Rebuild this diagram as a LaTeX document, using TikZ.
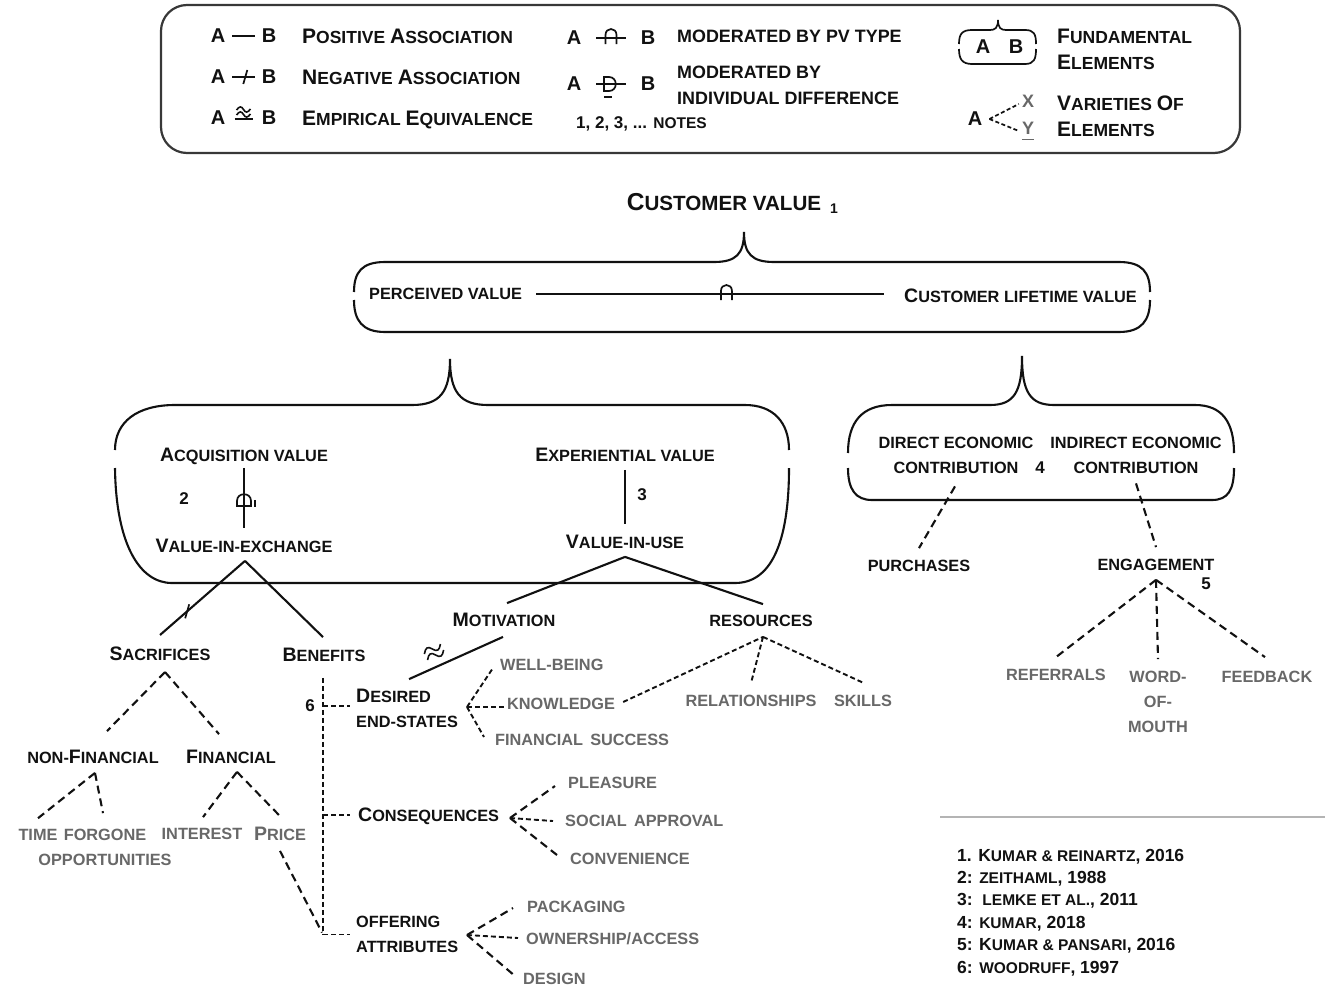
\documentclass[tikz,border=0pt]{standalone}
\usepackage{fontspec}
\setmainfont{Liberation Sans}
\usetikzlibrary{calc}

\definecolor{ink}{HTML}{111111}
\definecolor{greytext}{HTML}{686868}
\definecolor{framegrey}{HTML}{383838}
\definecolor{rulegrey}{HTML}{B4B4B4}

% large initial capitals inside small-capital labels
\newcommand\Bg[1]{{\fontsize{19.5}{25}\selectfont #1}}
\newcommand\BgL[1]{{\fontsize{21}{26}\selectfont #1}}
\newcommand\Sm[1]{{\fontsize{15.5}{22.4}\selectfont #1}}
% two stacked tildes, drawn around the current origin
\newcommand\tildepair{%
  \draw[symline, line width=1.6pt] (-7,-2) .. controls (-4,-6) and (-2,-6) .. (0,-2.5) .. controls (2,1) and (4,1) .. (7,-3);
  \draw[symline, line width=1.6pt] (-7,3) .. controls (-4,-1) and (-2,-1) .. (0,2.5) .. controls (2,6) and (4,6) .. (7,2);}

\tikzset{
  lbl/.style={inner sep=0pt, text depth=0pt, text=ink, font=\fontsize{16.3}{25}\selectfont\bfseries},
  gry/.style={lbl, text=greytext},
  lgd/.style={inner sep=0pt, text depth=0pt, text=ink, font=\fontsize{17.5}{26}\selectfont\bfseries},
  lgdm/.style={lgd, font=\fontsize{17.9}{26}\selectfont\bfseries},
  ab/.style={inner sep=0pt, text depth=0pt, text=ink, font=\fontsize{20}{24}\selectfont\bfseries},
  num/.style={inner sep=0pt, text depth=0pt, text=ink, font=\fontsize{17}{20}\selectfont\bfseries},
  fn/.style={inner sep=0pt, text depth=0pt, text=ink, font=\fontsize{17.5}{22.4}\selectfont\bfseries},
  conn/.style={draw=ink, line width=2.1pt},
  dconn/.style={conn, dash pattern=on 8pt off 5pt},
  fconn/.style={conn, line width=1.9pt, dash pattern=on 5pt off 3pt},
  bracebox/.style={draw=ink, line width=2.1pt},
  symline/.style={draw=ink, line width=1.7pt},
  % moderated by PV type
  pics/archsym/.style={code={\draw[symline] (-5.5,6) -- (-5.5,-3) .. controls (-5.5,-11) and (5.5,-11) .. (5.5,-3) -- (5.5,6);}},
  % moderated by individual difference (horizontal and vertical forms)
  pics/dsym/.style={code={
    \draw[symline] (-7,-7) -- (-7,7) -- (-2,7) .. controls (7,7) and (7,-7) .. (-2,-7) -- cycle;
    \draw[symline] (-7,13) -- (1,13);}},
  pics/vdsym/.style={code={
    \draw[symline] (-7,7) -- (7,7) -- (7,2) .. controls (7,-7) and (-7,-7) .. (-7,2) -- cycle;
    \draw[symline] (11,1) -- (11,8);}},
  % negative association
  pics/negtick/.style={code={\draw[symline] (2,-7) -- (-2,7);}},
  % empirical equivalence
  pics/approxsym/.style={code={\tildepair}},
}

\begin{document}
\begin{tikzpicture}[x=1pt,y=-1pt]
\useasboundingbox (0,0) rectangle (1325,988);
\fill[white] (0,0) rectangle (1325,988);

%% ---------------- key ----------------
\draw[framegrey, line width=2.2pt, rounded corners=26pt] (161,5) rectangle (1240,153);

% positive association
\node[ab] (pA) at (218,36) {A};
\node[ab] (pB) at (269,36) {B};
\draw[conn, shorten <=7pt, shorten >=7pt] (pA) -- (pB);
\node[lgd, anchor=west] (posT) at (302,36) {\BgL{P}OSITIVE \BgL{A}SSOCIATION};

% negative association
\node[ab] (nA) at (218,77) {A};
\node[ab] (nB) at (269,77) {B};
\draw[conn, shorten <=7pt, shorten >=7pt] (nA) -- coordinate[pos=0.55] (nMid) (nB);
\pic at (nMid) {negtick};
\node[lgd, anchor=west] (negT) at (302,77) {\BgL{N}EGATIVE \BgL{A}SSOCIATION};

% empirical equivalence
\node[ab] (eA) at (218,118) {A};
\node[ab] (eB) at (269,118) {B};
\path (eA) -- coordinate[pos=0.5] (eMid) (eB);
\draw[symline] ($(eMid)+(-9,1)$) -- ($(eMid)+(9,1)$);
\pic at ($(eMid)+(0,-6)$) {approxsym};
\node[lgd, anchor=west] (empT) at (302,118) {\BgL{E}MPIRICAL \BgL{E}QUIVALENCE};

% moderated by PV type
\node[ab] (mA) at (574,38) {A};
\node[ab] (mB) at (648,38) {B};
\draw[conn, shorten <=15pt, shorten >=15pt] (mA) -- coordinate[pos=0.5] (mMid) (mB);
\pic at (mMid) {archsym};
\node[lgdm, anchor=west] (pvT) at (677,36) {MODERATED BY PV TYPE};

% moderated by individual difference
\node[ab] (dA) at (574,84) {A};
\node[ab] (dB) at (648,84) {B};
\draw[conn, shorten <=15pt, shorten >=15pt] (dA) -- coordinate[pos=0.5] (dMid) (dB);
\pic at (dMid) {dsym};
\node[lgdm, anchor=west, align=left] (idT) at (677,85) {MODERATED BY\\INDIVIDUAL DIFFERENCE};

\node[anchor=west, inner sep=0pt, text depth=0pt, text=ink, font=\fontsize{17}{20}\selectfont\bfseries] (notesKey) at (576,123) {1, 2, 3, ... {\fontsize{15.5}{20}\selectfont NOTES}};

% fundamental elements
\node[ab] (fA) at (983,47) {A};
\node[ab] (fB) at (1016,47) {B};
\draw[bracebox, line width=1.7pt] (959,44) .. controls (959,34) and (962,30) .. (972,30) -- (990,30) .. controls (995,30) and (998,28) .. (998,20) .. controls (998,28) and (1001,30) .. (1006,30) -- (1025,30) .. controls (1034,30) and (1036,34) .. (1036,44);
\draw[bracebox, line width=1.7pt] (959,49) .. controls (959,59) and (962,64) .. (972,64) -- (1025,64) .. controls (1034,64) and (1036,59) .. (1036,49);
\node[lgd, anchor=west, align=left] (fundT) at (1057,49) {\BgL{F}UNDAMENTAL\\\BgL{E}LEMENTS};

% varieties of elements
\node[ab] (vA) at (975,119) {A};
\node[ab, text=greytext, font=\fontsize{18}{20}\selectfont\bfseries] (vX) at (1028,101) {X};
\node[ab, text=greytext, font=\fontsize{18}{20}\selectfont\bfseries] (vY) at (1028,128) {Y};
\coordinate (vApex) at ($(vA.east)+(7,0)$);
\draw[conn, line width=1.7pt, dash pattern=on 4pt off 2.5pt] (vApex) -- ($(vX.west)+(-3,3)$);
\draw[conn, line width=1.7pt, dash pattern=on 4pt off 2.5pt] (vApex) -- ($(vY.west)+(-3,3)$);
\draw[greytext, line width=1.6pt] ($(vY.south west)+(0,5)$) -- ($(vY.south east)+(0,5)$);
\node[lgd, anchor=west, align=left] (varT) at (1057,116.5) {\BgL{V}ARIETIES \BgL{O}F\\\BgL{E}LEMENTS};

%% ---------------- customer value ----------------
\node[inner sep=0pt, text depth=0pt, text=ink, font=\bfseries] (cv) at (724,202) {\fontsize{24.5}{28}\selectfont C\fontsize{20.6}{28}\selectfont USTOMER VALUE};
\node[num, font=\fontsize{14}{16}\selectfont\bfseries] (cv1) at (834,209) {1};

\draw[bracebox] (354,292) .. controls (354,272) and (362,262) .. (385,262) -- (714,262) .. controls (736,262) and (744,254) .. (744,232) .. controls (744,254) and (752,262) .. (774,262) -- (1119,262) .. controls (1142,262) and (1150,272) .. (1150,292);
\draw[bracebox] (354,300) .. controls (354,320) and (362,332) .. (385,332) -- (1119,332) .. controls (1142,332) and (1150,320) .. (1150,300);

\node[lbl, anchor=west] (pv) at (369,294) {PERCEIVED VALUE};
\node[lbl, anchor=west] (clv) at (904,296) {\Bg{C}USTOMER LIFETIME VALUE};
\draw[conn, shorten <=14pt, shorten >=20pt] (pv.east) -- coordinate[pos=0.535] (pvMid) (pv.east -| clv.west);
\pic at (pvMid) {archsym};

%% ---------------- perceived value block ----------------
\draw[bracebox] (115,450) .. controls (115,422) and (137,405) .. (175,405) -- (412,405) .. controls (440,405) and (450,392) .. (450,359) .. controls (450,392) and (460,405) .. (488,405) -- (745,405) .. controls (773,405) and (789,422) .. (789,450);
\draw[bracebox] (115,468) .. controls (116,545) and (140,583) .. (172,583) -- (735,583) .. controls (770,583) and (789,545) .. (789,468);

\node[lbl] (acq) at (244,455) {\Bg{A}CQUISITION VALUE};
\node[lbl] (vie) at (244,546) {\Bg{V}ALUE-IN-EXCHANGE};
\draw[conn, shorten <=6pt, shorten >=11pt] (acq) -- coordinate[pos=0.48] (acqMid) (vie);
\pic at (acqMid) {vdsym};
\node[num] (n2) at (184,499) {2};

\node[lbl] (exp) at (625,455) {\Bg{E}XPERIENTIAL VALUE};
\node[lbl] (viu) at (625,542) {\Bg{V}ALUE-IN-USE};
\draw[conn, shorten <=8pt, shorten >=11pt] (exp) -- (viu);
\node[num] (n3) at (642,495) {3};

% value-in-exchange
\coordinate (vieA) at ($(vie.south)+(1,8)$);
\node[lbl] (sac) at (160,654) {\Bg{S}ACRIFICES};
\node[lbl] (ben) at (324,655) {\Bg{B}ENEFITS};
\draw[conn] (vieA) -- coordinate[pos=0.68] (sacTick) ($(sac.north)+(0,-12)$);
\pic at (sacTick) {negtick};
\draw[conn] (vieA) -- ($(ben.north)+(-1,-11)$);

% value-in-use
\coordinate (viuA) at ($(viu.south)+(0,8)$);
\node[lbl] (mot) at (504,620) {\Bg{M}OTIVATION};
\node[lbl] (res) at (761,621) {RESOURCES};
\draw[conn] (viuA) -- ($(mot.north)+(3,-10)$);
\draw[conn] (viuA) -- ($(res.north)+(2,-11)$);

% sacrifices
\coordinate (sacA) at ($(sac.south)+(5,11)$);
\node[lbl] (nfi) at (93,757) {NON-\Bg{F}INANCIAL};
\node[lbl] (fin) at (231,757) {\Bg{F}INANCIAL};
\draw[dconn] (sacA) -- ($(nfi.north)+(14,-19)$);
\draw[dconn] (sacA) -- ($(fin.north)+(-12,-16)$);

\coordinate (nfiA) at ($(nfi.south)+(2,9)$);
\node[gry] (tim) at (38,835) {TIME};
\node[gry, align=center] (for) at (105,847.5) {FORGONE\\OPPORTUNITIES};
\draw[dconn] (nfiA) -- ($(tim.north)+(0,-11)$);
\draw[dconn] (nfiA) -- ($(for.north)+(-2,-16)$);

\coordinate (finA) at ($(fin.south)+(6,8)$);
\node[gry] (int) at (202,834) {INTEREST};
\node[gry] (pri) at (280,834) {\Bg{P}RICE};
\draw[dconn] (finA) -- ($(int.north)+(1,-11)$);
\draw[dconn] (finA) -- ($(pri.north)+(0,-11)$);

% benefits
\node[lbl, anchor=west, align=left] (des) at (356,708.5) {\Bg{D}ESIRED\\END-STATES};
\node[lbl, anchor=west] (con) at (358,815) {\Bg{C}ONSEQUENCES};
\node[lbl, anchor=west, align=left] (off) at (356,934.5) {OFFERING\\ATTRIBUTES};
\node[num] (n6) at (310,706) {6};

\coordinate (benTop) at ($(ben.south)+(-1,16)$);
\coordinate (benBot) at (benTop |- off.west);
\draw[fconn] (benTop) -- (benBot);
\draw[fconn] ($(benTop |- n6)$) -- ($(des.west |- n6)+(-6,0)$);
\draw[fconn] (benTop |- con.west) -- ($(con.west)+(-8,0)$);
\draw[fconn] (benBot) -- ($(off.west)+(-6,0)$);
\draw[dconn] ($(pri.south)+(0,10)$) -- ($(benBot)+(-1,-2)$);

% motivation ~ desired end-states
\draw[conn] ($(mot.south)+(-1,10)$) -- ($(des.north)+(2,-10)$);
\begin{scope}[shift={(434,652)}, rotate=28, scale=1.35]
  \tildepair
\end{scope}

\coordinate (desA) at (467,707);
\node[gry, anchor=west] (wb) at (500,665) {WELL-BEING};
\node[gry, anchor=west] (kn) at (507,704) {KNOWLEDGE};
\node[gry, anchor=west] (fs) at (495,740) {FINANCIAL\, SUCCESS};
\draw[fconn] (desA) -- ($(wb.west)+(-7,3)$);
\draw[fconn] (desA) -- ($(kn.west)+(-3,3)$);
\draw[fconn] (desA) -- ($(fs.west)+(-11,-3)$);

\coordinate (conA) at (510,818);
\node[gry, anchor=west] (ple) at (568,783) {PLEASURE};
\node[gry, anchor=west] (soc) at (565,821) {SOCIAL\, APPROVAL};
\node[gry, anchor=west] (cnv) at (570,859) {CONVENIENCE};
\draw[dconn] (conA) -- ($(ple.west)+(-13,3)$);
\draw[fconn] (conA) -- ($(soc.west)+(-12,0)$);
\draw[dconn] (conA) -- ($(cnv.west)+(-13,-4)$);

\coordinate (offA) at (467,935);
\node[gry, anchor=west] (pac) at (527,907) {PACKAGING};
\node[gry, anchor=west] (own) at (526,939) {OWNERSHIP/ACCESS};
\node[gry, anchor=west] (dsg) at (523,979) {DESIGN};
\draw[dconn] (offA) -- ($(pac.west)+(-14,1)$);
\draw[fconn] (offA) -- ($(own.west)+(-8,-1)$);
\draw[dconn] (offA) -- ($(dsg.west)+(-8,-3)$);

% resources
\coordinate (resA) at ($(res.south)+(2,10)$);
\node[gry] (rel) at (751,701) {RELATIONSHIPS};
\node[gry] (ski) at (863,701) {SKILLS};
\draw[fconn] ($(kn.east)+(8,-2)$) -- (resA);
\draw[fconn] (resA) -- ($(rel.north)+(0,-12)$);
\draw[fconn] (resA) -- ($(ski.north)+(1,-12)$);

%% ---------------- customer lifetime value block ----------------
\draw[bracebox] (848,453) .. controls (848,422) and (862,405) .. (892,405) -- (990,405) .. controls (1014,405) and (1022,392) .. (1022,356) .. controls (1022,392) and (1030,405) .. (1054,405) -- (1195,405) .. controls (1222,405) and (1234,422) .. (1234,453);
\draw[bracebox] (848,468) .. controls (848,490) and (856,500) .. (872,500) -- (1212,500) .. controls (1228,500) and (1234,490) .. (1234,468);

\node[lbl, align=center] (dec) at (956,455) {DIRECT ECONOMIC\\CONTRIBUTION};
\node[lbl, align=center] (iec) at (1136,455) {INDIRECT ECONOMIC\\CONTRIBUTION};
\node[num] (n4) at (1040,468) {4};

\node[lbl] (pur) at (919,566) {PURCHASES};
\draw[dconn] ($(dec.south)+(-1,13)$) -- ($(pur.north)+(0,-12)$);

\node[lbl] (eng) at (1156,565) {ENGAGEMENT};
\node[num] (n5) at (1206,584) {5};
\draw[dconn] ($(iec.south)+(0,10)$) -- ($(eng.north)+(0,-12)$);

\coordinate (engA) at ($(eng.south)+(0,9)$);
\node[gry] (ref) at (1056,675) {REFERRALS};
\node[gry, align=center] (wom) at (1158,702) {WORD-\\OF-\\MOUTH};
\node[gry] (fee) at (1267,677) {FEEDBACK};
\draw[dconn] (engA) -- ($(ref.north)+(0,-12)$);
\draw[dconn] (engA) -- ($(wom.north)+(0,-12)$);
\draw[dconn] (engA) -- ($(fee.north)+(-2,-14)$);

%% ---------------- references ----------------
\draw[rulegrey, line width=1.5pt] (940,817) -- (1325,817);
\node[fn, anchor=west, align=left] (notes) at (957,911) {1. K\Sm{UMAR \& REINARTZ}, 2016\\2: \Sm{ZEITHAML}, 1988\\3:\ \ \Sm{LEMKE ET AL.}, 2011\\4: \Sm{KUMAR}, 2018\\5: K\Sm{UMAR \& PANSARI}, 2016\\6: \Sm{WOODRUFF}, 1997};

\end{tikzpicture}
\end{document}
